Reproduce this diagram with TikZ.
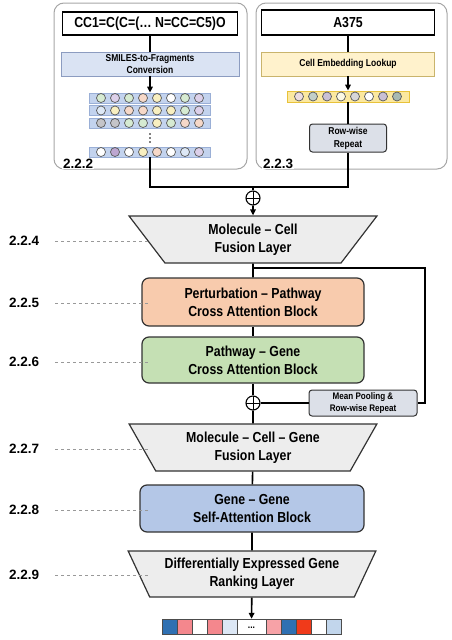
\documentclass[tikz,border=0pt]{standalone}
\usepackage{fontspec}
\setmainfont{Liberation Sans}[FakeStretch=0.85]
\newfontfamily\labfont{Liberation Sans}
\usetikzlibrary{arrows.meta,shapes.geometric,positioning}

\definecolor{cgr}{HTML}{D6EBD2}
\definecolor{clv}{HTML}{DCD0EA}
\definecolor{cpe}{HTML}{F6D8C8}
\definecolor{cye}{HTML}{F8EFC0}
\definecolor{cbl}{HTML}{DDE8F6}
\definecolor{cgy}{HTML}{C4C4C8}
\definecolor{cpu}{HTML}{BCA6D0}
\definecolor{cgg}{HTML}{A8BAB2}
\definecolor{cpk}{HTML}{ECDDE0}
\definecolor{cdb}{HTML}{2F70B2}
\definecolor{crs}{HTML}{F4878D}
\definecolor{clb}{HTML}{DCE7F5}
\definecolor{cpl}{HTML}{F7A2A7}
\definecolor{crd}{HTML}{F03A1A}
\definecolor{cvb}{HTML}{C2D6EC}
% block fills
\definecolor{fconv}{HTML}{DAE3F3}
\definecolor{fconvl}{HTML}{8C9CC0}
\definecolor{frow}{HTML}{C3D3EE}
\definecolor{frowl}{HTML}{9AAFD6}
\definecolor{flook}{HTML}{FFF2CC}
\definecolor{flookl}{HTML}{C9B46C}
\definecolor{fyrow}{HTML}{FBE8A0}
\definecolor{fyrowl}{HTML}{E8C23A}
\definecolor{fgray}{HTML}{DCE0E8}
\definecolor{forg}{HTML}{F8CBAD}
\definecolor{fgrn}{HTML}{C5E0B4}
\definecolor{fblu}{HTML}{B4C7E7}
\definecolor{ftrap}{HTML}{EDEDED}

\tikzset{
  conn/.style={line width=1.6pt},
  arr/.style={conn,-{Triangle[length=6pt,width=5.5pt]}},
  panel/.style={draw=black!35,line width=1pt,rounded corners=10pt,inner sep=0pt},
  inbox/.style={draw,line width=1.2pt,fill=white,inner sep=0pt,
    font=\fontsize{14.5}{18}\selectfont\bfseries},
  stepbox/.style={inner sep=0pt,align=center,line width=0.8pt,
    font=\fontsize{10}{12}\selectfont\bfseries},
  embrow/.style={draw=frowl,fill=frow,line width=0.8pt,inner sep=0pt,minimum width=121,minimum height=10},
  bead/.style={circle,draw=black!65,line width=0.7pt,inner sep=0pt,minimum size=9},
  block/.style={draw=black!80,line width=1.2pt,rounded corners=7pt,align=center,
    font=\fontsize{14.5}{18}\selectfont\bfseries},
  trap/.style={trapezium,trapezium angle=61,shape border rotate=180,
    trapezium stretches=true,draw=black!80,fill=ftrap,line width=1.2pt,
    minimum width=248,minimum height=47,inner sep=1pt,align=center,
    font=\fontsize{14.5}{18}\selectfont\bfseries},
  plus/.style={circle,draw,fill=white,line width=1.1pt,minimum size=14,inner sep=0pt,
    path picture={\draw[line width=1pt] (path picture bounding box.north) -- (path picture bounding box.south)
      (path picture bounding box.west) -- (path picture bounding box.east);}},
  seclab/.style={inner sep=0pt,font=\fontsize{13.5}{14}\labfont\bfseries},
  guide/.style={draw=black!40,dashed,line width=0.5pt},
  cell/.style={draw=black!70,line width=0.6pt}
}

\begin{document}
\begin{tikzpicture}[x=1pt,y=-1pt]
\useasboundingbox (0,0) rectangle (451,640);

% top panels
\node[panel,minimum width=193,minimum height=166] (molpanel) at (150.5,86) {};
\node[panel,minimum width=191,minimum height=166] (cellpanel) at (351.5,86) {};

% molecule branch
\node[inbox,minimum width=175,minimum height=23] (smiles) at (150,23.5) {CC1=C(C=(… N=CC=C5)O};
\node[stepbox,draw=fconvl,fill=fconv,minimum width=178,minimum height=24] (conv) at (150,64) {SMILES-to-Fragments\\Conversion};
\node[embrow] (frag1) at (150,98) {};
\node[embrow] (frag2) at (150,110.5) {};
\node[embrow] (frag3) at (150,123) {};
\node[embrow] (fragN) at (150,152) {};
\foreach \c [count=\i] in {cgr,clv,cgr,cpe,cye,white,cgr,clv}
  \node[bead,fill=\c] at ([xshift=(\i-4.5)*14pt]frag1.center) {};
\foreach \c [count=\i] in {cbl,cye,cpe,cpe,cye,cye,cgr,clv}
  \node[bead,fill=\c] at ([xshift=(\i-4.5)*14pt]frag2.center) {};
\foreach \c [count=\i] in {cgy,cgy,cgr,cgr,cye,cgr,cpe,cpe}
  \node[bead,fill=\c] at ([xshift=(\i-4.5)*14pt]frag3.center) {};
\foreach \c [count=\i] in {white,cpu,white,cye,cpe,white,cbl,clv}
  \node[bead,fill=\c] at ([xshift=(\i-4.5)*14pt]fragN.center) {};
\foreach \d in {-4,0,4}
  \fill (150,138+\d) circle (0.9);
\draw[conn] (smiles) -- (conv);
\draw[arr] (conv) -- (frag1);
\node[seclab,fill=white,anchor=base west,inner sep=1pt] (sec2) at (62,168) {2.2.2};

% cell branch
\node[inbox,minimum width=173,minimum height=25] (cline) at (348,22.5) {A375};
\node[stepbox,draw=flookl,fill=flook,minimum width=173,minimum height=24] (lookup) at (348,64) {Cell Embedding Lookup};
\node[embrow,draw=fyrowl,fill=fyrow,minimum width=122,minimum height=11] (cemb) at (348,96.5) {};
\foreach \c [count=\i] in {cpk,cgg!70,clv!80!gray,cye!40,cgy!70,white,clv!80!gray,cgg}
  \node[bead,fill=\c] at ([xshift=(\i-4.5)*14pt]cemb.center) {};
\node[stepbox,draw=black!80,line width=1pt,fill=fgray,rounded corners=3pt,
  minimum width=77,minimum height=28,font=\fontsize{10}{13}\selectfont\bfseries] (rep) at (348,138) {Row-wise\\Repeat};
\draw[conn] (cline) -- (lookup);
\draw[arr] (lookup) -- (cemb);
\draw[conn] (cemb) -- (rep);
\node[seclab,fill=white,anchor=base west,inner sep=1pt] (sec3) at (262,168) {2.2.3};

% fusion stack
\coordinate (join) at (253,187);
\node[plus] (plus1) at (253,198) {};
\node[trap] (fus1) at (253,239.5) {Molecule – Cell\\Fusion Layer};
\node[block,fill=forg,minimum width=222,minimum height=48] (pert) at (253,302) {Perturbation – Pathway\\Cross Attention Block};
\node[block,fill=fgrn,minimum width=222,minimum height=46] (pathg) at (253,360) {Pathway – Gene\\Cross Attention Block};
\node[plus] (plus2) at (253,403) {};
\node[stepbox,draw=black!80,line width=1pt,fill=fgray,rounded corners=3pt,
  minimum width=108,minimum height=26,font=\fontsize{9.5}{11.7}\selectfont\bfseries] (pool) at (363,403) {Mean Pooling \&\\Row-wise Repeat};
\node[trap] (fus2) at (253,447.5) {Molecule – Cell – Gene\\Fusion Layer};
\node[block,fill=fblu,minimum width=224,minimum height=47] (self) at (252,508.5) {Gene – Gene\\Self-Attention Block};
\node[trap,minimum height=46] (rank) at (252,574) {Differentially Expressed Gene\\Ranking Layer};

% output ranking bar
\node[inner sep=0pt,minimum width=179,minimum height=15] (outbar) at (251.5,626.5) {};
\foreach \c/\xa in {cdb/162,crs/177,white/192,crs/207,clb/222,cpl/266,cdb/281,crd/296,white/311,cvb/326}
  \draw[cell,fill=\c] (\xa,619) rectangle ++(15,15);
\draw[cell,fill=white] (237,619) rectangle ++(29,15);
\node[font=\fontsize{10}{10}\selectfont\bfseries,inner sep=0pt] (gap) at (251.5,628) {...};

% connectors
\coordinate (branch) at (253,268);
\coordinate (loopR) at (425,403);
\draw[conn] (fragN) |- (join);
\draw[conn] (rep) |- (join);
\draw[conn] (join) -- (plus1);
\draw[arr] (plus1) -- (fus1);
\draw[conn] (fus1) -- (pert);
\draw[conn] (branch) -| (loopR) -- (pool);
\draw[conn] (pool) -- (plus2);
\draw[conn] (pert) -- (pathg);
\draw[conn] (pathg) -- (plus2);
\draw[conn] (plus2) -- (fus2);
\draw[conn] (fus2) -- (self);
\draw[conn] (self) -- (rank);
\draw[arr] (rank) -- (outbar);

% section labels
\node[seclab,anchor=west] (l4) at (9,241) {2.2.4};
\node[seclab,anchor=west] (l5) at (9,303) {2.2.5};
\node[seclab,anchor=west] (l6) at (9,362) {2.2.6};
\node[seclab,anchor=west] (l7) at (9,449) {2.2.7};
\node[seclab,anchor=west] (l8) at (9,510) {2.2.8};
\node[seclab,anchor=west] (l9) at (9,575) {2.2.9};
\foreach \l in {l4,l5,l6,l7,l8,l9}
  \draw[guide] ([xshift=16pt]\l.east) -- ([xshift=140pt]\l.west);
\end{tikzpicture}
\end{document}
